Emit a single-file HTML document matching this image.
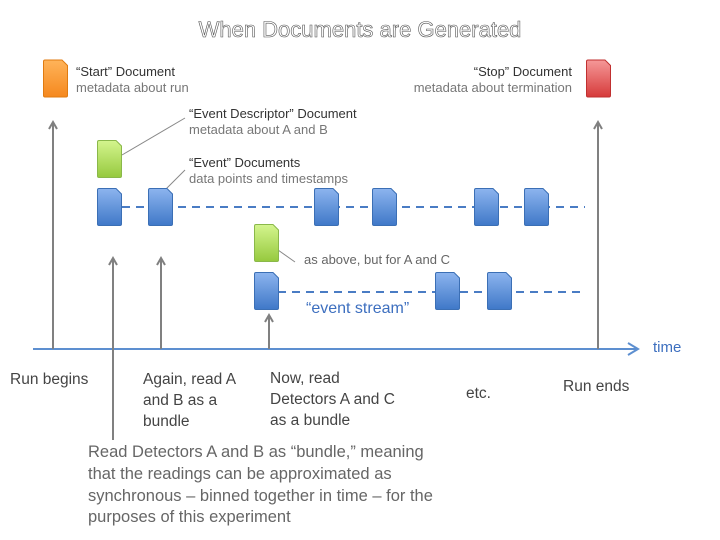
<!DOCTYPE html>
<html><head><meta charset="utf-8"><style>
html,body{margin:0;padding:0;background:#fff;}
svg{display:block;font-family:"Liberation Sans",sans-serif;}
</style></head><body>
<svg width="720" height="540" viewBox="0 0 720 540" xmlns="http://www.w3.org/2000/svg">
<defs>
<linearGradient id="bl" x1="0" y1="0" x2="0" y2="1"><stop offset="0" stop-color="#8cb4ee"/><stop offset="1" stop-color="#3f78c8"/></linearGradient>
<linearGradient id="gr" x1="0" y1="0" x2="0" y2="1"><stop offset="0" stop-color="#d4f58e"/><stop offset="1" stop-color="#96c93e"/></linearGradient>
<linearGradient id="or" x1="0" y1="0" x2="0" y2="1"><stop offset="0" stop-color="#ffb45a"/><stop offset="1" stop-color="#f5881e"/></linearGradient>
<linearGradient id="rd" x1="0" y1="0" x2="0" y2="1"><stop offset="0" stop-color="#f59898"/><stop offset="1" stop-color="#d63a3a"/></linearGradient>
<symbol id="doc" viewBox="0 0 25 38"><path d="M2,0.5 H19 L24.5,6 V36 Q24.5,37.5 23,37.5 H2 Q0.5,37.5 0.5,36 V2 Q0.5,0.5 2,0.5 Z"/></symbol>
</defs>

<text x="360" y="37" text-anchor="middle" font-size="22" fill="#fff" stroke="#555" stroke-width="0.6">When Documents are Generated</text>

<!-- connectors -->
<line x1="122" y1="155" x2="185" y2="118" stroke="#888" stroke-width="1"/>
<line x1="165" y1="190" x2="185" y2="170" stroke="#888" stroke-width="1"/>
<line x1="278" y1="250" x2="295" y2="262" stroke="#888" stroke-width="1"/>

<!-- dashed -->
<line x1="122" y1="207" x2="585" y2="207" stroke="#4a7cc4" stroke-width="2" stroke-dasharray="8,6"/>
<line x1="278" y1="292" x2="583" y2="292" stroke="#4a7cc4" stroke-width="2" stroke-dasharray="8,6"/>

<!-- timeline -->
<line x1="33" y1="349" x2="636" y2="349" stroke="#5d8fd0" stroke-width="2"/>
<path d="M628,343 L638,349 L628,355" fill="none" stroke="#5d8fd0" stroke-width="2"/>
<text x="653" y="352" font-size="15" fill="#3d6fbf">time</text>

<!-- arrows -->
<g stroke="#808080" stroke-width="2" fill="none">
<line x1="53" y1="349" x2="53" y2="124"/><path d="M49,129 L53,122 L57,129"/>
<line x1="113" y1="440" x2="113" y2="260"/><path d="M109,265 L113,258 L117,265"/>
<line x1="161" y1="349" x2="161" y2="260"/><path d="M157,265 L161,258 L165,265"/>
<line x1="269" y1="349" x2="269" y2="317"/><path d="M265,322 L269,315 L273,322"/>
<line x1="598" y1="349" x2="598" y2="124"/><path d="M594,129 L598,122 L602,129"/>
</g>

<!-- docs -->
<g stroke="#3b6fb5" stroke-width="1" fill="url(#bl)">
<use href="#doc" x="97" y="188" width="25" height="38"/>
<use href="#doc" x="148" y="188" width="25" height="38"/>
<use href="#doc" x="314" y="188" width="25" height="38"/>
<use href="#doc" x="372" y="188" width="25" height="38"/>
<use href="#doc" x="474" y="188" width="25" height="38"/>
<use href="#doc" x="524" y="188" width="25" height="38"/>
<use href="#doc" x="254" y="272" width="25" height="38"/>
<use href="#doc" x="435" y="272" width="25" height="38"/>
<use href="#doc" x="487" y="272" width="25" height="38"/>
</g>
<g stroke="#8ab84a" stroke-width="1" fill="url(#gr)">
<use href="#doc" x="97" y="140" width="25" height="38"/>
<use href="#doc" x="254" y="224" width="25" height="38"/>
</g>
<use href="#doc" x="43" y="59" width="25" height="39" fill="url(#or)" stroke="#e07b10"/>
<use href="#doc" x="586" y="59" width="25" height="39" fill="url(#rd)" stroke="#c03030"/>

<!-- labels -->
<g font-size="13">
<text x="76" y="76" fill="#333">“Start” Document</text>
<text x="76" y="92" fill="#777">metadata about run</text>
<text x="189" y="118" fill="#333">“Event Descriptor” Document</text>
<text x="189" y="134" fill="#777">metadata about A and B</text>
<text x="189" y="167" fill="#333">“Event” Documents</text>
<text x="189" y="183" fill="#777">data points and timestamps</text>
<text x="572" y="76" fill="#333" text-anchor="end">“Stop” Document</text>
<text x="572" y="92" fill="#777" text-anchor="end">metadata about termination</text>
<text x="304" y="264" fill="#666">as above, but for A and C</text>
</g>
<text x="306" y="313" font-size="16" fill="#3d6fbf">“event stream”</text>

<g font-size="15.5" fill="#444">
<text x="10" y="384">Run begins</text>
<text x="143" y="384">Again, read A</text>
<text x="143" y="405">and B as a</text>
<text x="143" y="426">bundle</text>
<text x="270" y="383">Now, read</text>
<text x="270" y="404">Detectors A and C</text>
<text x="270" y="425">as a bundle</text>
<text x="466" y="398">etc.</text>
<text x="563" y="391">Run ends</text>
</g>
<g font-size="16.5" fill="#666">
<text x="88" y="457">Read Detectors A and B as “bundle,” meaning</text>
<text x="88" y="479">that the readings can be approximated as</text>
<text x="88" y="501">synchronous – binned together in time – for the</text>
<text x="88" y="522">purposes of this experiment</text>
</g>
</svg>
</body></html>
